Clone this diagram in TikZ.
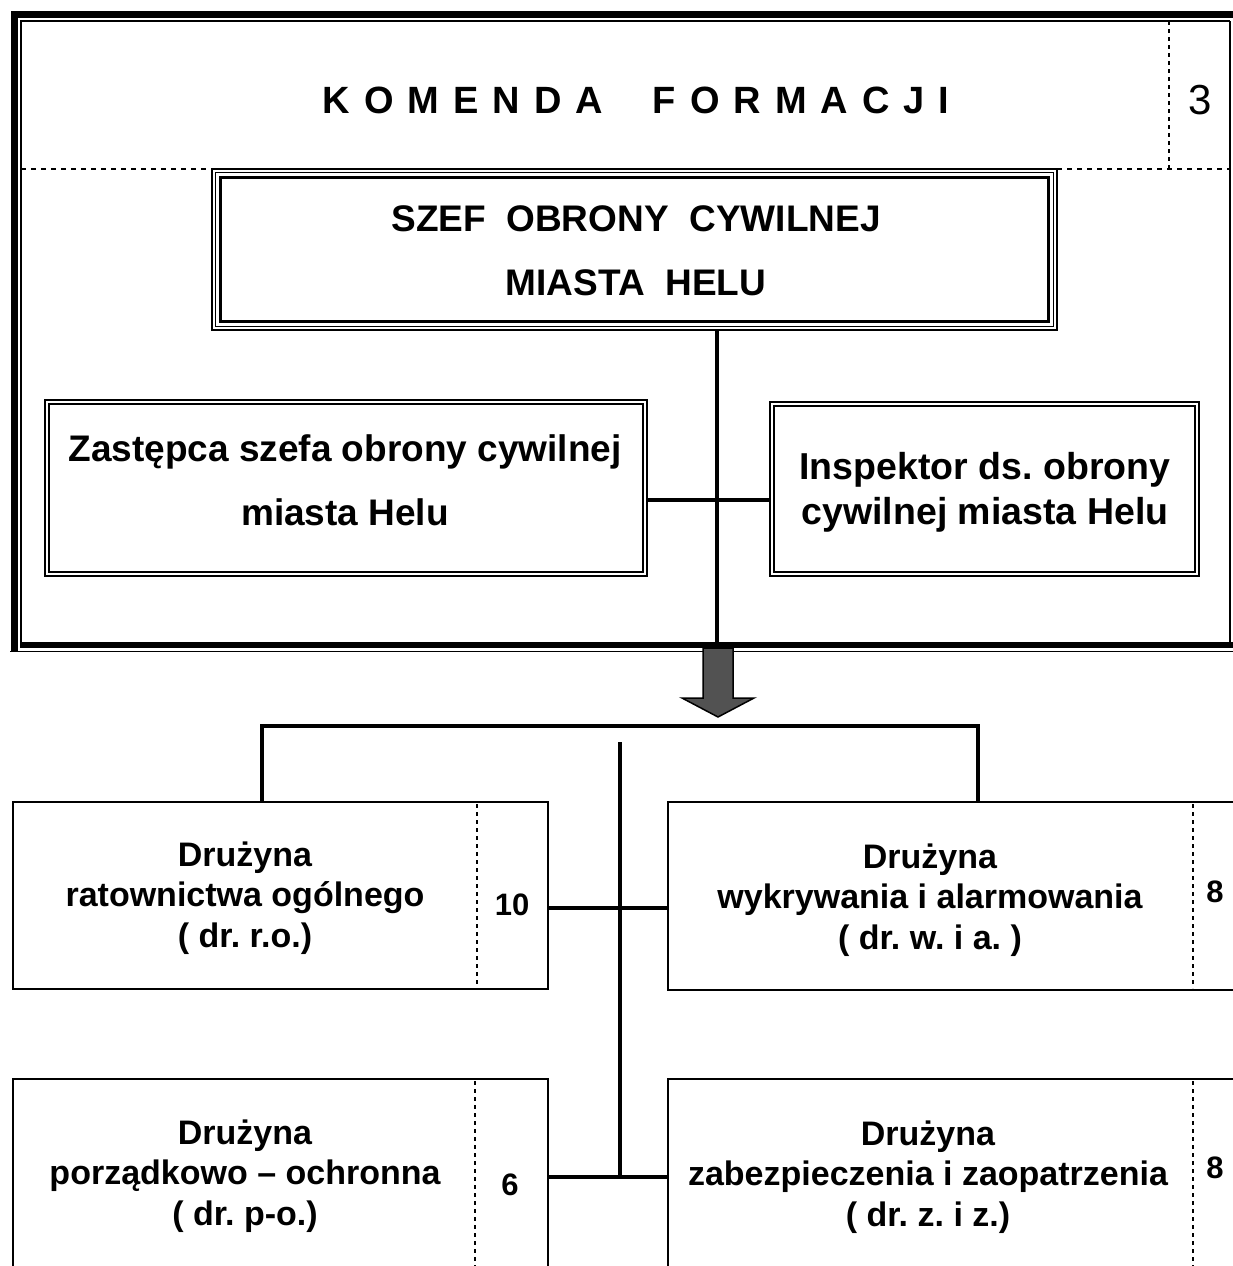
\documentclass[tikz,border=0pt]{standalone}
\usepackage{fontspec}
\setmainfont{Liberation Sans}
\frenchspacing
\begin{document}
\begin{tikzpicture}[x=1pt,y=-1pt,
  thinbox/.style={draw,line width=1.3pt,inner sep=0pt,rectangle},
  plainbox/.style={draw,line width=2pt,inner sep=0pt,rectangle},
  conn/.style={line width=4pt},
  dashv/.style={line width=1.2pt,dash pattern=on 4pt off 4pt},
  dashh/.style={line width=1.8pt,dash pattern=on 5pt off 5pt},
  bigtxt/.style={font=\bfseries\fontsize{37}{64}\selectfont,align=center,inner sep=0pt},
  midtxt/.style={font=\bfseries\fontsize{37.5}{45}\selectfont,align=center,inner sep=0pt},
  smalltxt/.style={font=\bfseries\fontsize{34}{40.5}\selectfont,align=center,inner sep=0pt},
  numtxt/.style={font=\bfseries\fontsize{31}{36}\selectfont,inner sep=0pt}]
\useasboundingbox (0,0) rectangle (1233,1266);
\clip (0,0) rectangle (1233,1266);
% outer frame
\draw[line width=7pt] (1250,14) -- (14,14) -- (14,651);
\draw[line width=1.5pt] (10,651.5) -- (1250,651.5);
\draw[line width=6pt] (20,645) -- (1250,645);
\draw[line width=1.5pt] (1230,21) -- (21,21) -- (21,642);
\draw[line width=1.5pt] (1230,21) -- (1230,642);
% dashed separators in frame
\draw[dashh] (21,169) -- (212,169);
\draw[dashh] (1057,169) -- (1230,169);
\draw[dashv] (1169,21) -- (1169,169);
% title
\node[font=\bfseries\fontsize{38}{44}\selectfont,inner sep=0pt] (title) at (636,100)
  {K\kern14pt O\kern14pt M\kern14pt E\kern14pt N\kern14pt D\kern14pt A\kern50pt F\kern14pt O\kern14pt R\kern14pt M\kern14pt A\kern14pt C\kern14pt J\kern14pt I};
\node[font=\fontsize{42}{48}\selectfont,inner sep=0pt] (three) at (1200,100) {3};
% SZEF box (triple border)
\node[thinbox,minimum width=845pt,minimum height=161pt] (szef) at (634.5,249.5) {};
\node[thinbox,minimum width=838pt,minimum height=154pt] at (634.5,249.5) {};
\node[draw,line width=2.2pt,minimum width=828pt,minimum height=144pt,inner sep=0pt] at (634.5,249.5) {};
\node[bigtxt] (szeftxt) at (636,251) {SZEF\ \ OBRONY\ \ CYWILNEJ\\MIASTA\ \ HELU};
% Zastepca box
\node[thinbox,minimum width=602pt,minimum height=176pt] (zast) at (346,488) {};
\node[thinbox,minimum width=594pt,minimum height=168pt] at (346,488) {};
\node[bigtxt] (zasttxt) at (345,480) {Zastępca szefa obrony cywilnej\\miasta Helu};
% Inspektor box
\node[thinbox,minimum width=429pt,minimum height=174pt] (insp) at (984.5,489) {};
\node[thinbox,minimum width=421pt,minimum height=166pt] at (984.5,489) {};
\node[midtxt] (insptxt) at (985,492) {Inspektor ds. obrony\\cywilnej miasta Helu};
% connectors in top part
\coordinate (vtop) at (717,645);
\coordinate (hj) at (717,500);
\draw[conn] (szef.south -| vtop) -- (vtop);
\draw[conn] (zast.east |- hj) -- (insp.west |- hj);
% big arrow
\draw[line width=1.5pt,fill=black!68] (703,648) -- (733,648) -- (733,698) -- (754,698) -- (718,717) -- (682,698) -- (703,698) -- cycle;
% lower boxes
\node[plainbox,minimum width=535pt,minimum height=187pt] (b1) at (280.5,895.5) {};
\node[plainbox,minimum width=600pt,minimum height=188pt] (b2) at (968,896) {};
\node[plainbox,minimum width=535pt,minimum height=260pt] (b3) at (280.5,1209) {};
\node[plainbox,minimum width=600pt,minimum height=260pt] (b4) at (968,1209) {};
\draw[dashv] (477,804) -- (477,988);
\draw[dashv] (1193,804) -- (1193,988);
\draw[dashv] (475,1081) -- (475,1266);
\draw[dashv] (1193,1081) -- (1193,1266);
\node[smalltxt] (t1) at (245,898) {Drużyna\\ratownictwa ogólnego\\( dr. r.o.)};
\node[smalltxt] (t2) at (930,900) {Drużyna\\wykrywania i alarmowania\\( dr. w. i a. )};
\node[smalltxt] (t3) at (245,1176) {Drużyna\\porządkowo – ochronna\\( dr. p-o.)};
\node[smalltxt] (t4) at (928,1177) {Drużyna\\zabezpieczenia i zaopatrzenia\\( dr. z. i z.)};
\node[numtxt] (n1) at (512,905) {10};
\node[numtxt] (n2) at (1215,892) {8};
\node[numtxt] (n3) at (510,1185) {6};
\node[numtxt] (n4) at (1215,1168) {8};
% lower connectors
\coordinate (barL) at (262,726);
\coordinate (barR) at (978,726);
\coordinate (ctop) at (620,742);
\coordinate (cbot) at (620,1179);
\coordinate (h1) at (620,908);
\coordinate (h2) at (620,1177);
\draw[conn] (b1.north -| barL) -- (barL) -- (barR) -- (b2.north -| barR);
\draw[conn] (ctop) -- (cbot);
\draw[conn] (b1.east |- h1) -- (b2.west |- h1);
\draw[conn] (b3.east |- h2) -- (b4.west |- h2);
\end{tikzpicture}
\end{document}
